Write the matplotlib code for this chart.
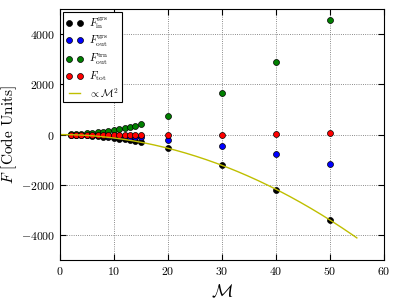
import matplotlib
matplotlib.use("Agg")
import matplotlib.pyplot as plt
import numpy as np

plt.rcParams["font.family"] = "serif"
plt.rcParams["font.serif"] = ["cmr10", "DejaVu Serif"]
plt.rcParams["mathtext.fontset"] = "cm"
plt.rcParams["axes.formatter.use_mathtext"] = True
plt.rcParams["xtick.direction"] = "in"
plt.rcParams["ytick.direction"] = "in"

# Mach numbers
mach = [2, 3, 4, 5, 6, 7, 8, 9, 10, 11, 12, 13, 14, 15, 20, 30, 40, 50]
f_in_grs = [-5, -12, -22, -34, -49, -67, -87, -110, -136, -165, -196, -230, -267, -306,
            -550, -1230, -2190, -3410]
f_out_grs = [-2, -4, -8, -12, -17, -24, -31, -39, -48, -58, -69, -81, -94, -108,
             -200, -440, -760, -1170]
f_out_trn = [7, 16, 29, 46, 66, 89, 116, 147, 182, 220, 262, 308, 357, 410,
             720, 1640, 2900, 4580]
f_tot = [0, 0, 0, 0, 0, 0, 0, 0, -2, -3, -3, -3, -4, -4,
         -30, -30, 10, 50]
# prefactor of the M^2 guide line
coef = -1.36
m_max = 55

fig = plt.figure(figsize=(3.99, 2.99), dpi=100)
ax = fig.add_axes([0.150, 0.130, 0.812, 0.840])

mk = dict(ls="none", marker="o", ms=4.3, mec="k", mew=0.5)
ax.plot(mach, f_in_grs, color="k", label=r"$F_{\rm in}^{\rm grs}$", **mk)
ax.plot(mach, f_out_grs, color="b", label=r"$F_{\rm out}^{\rm grs}$", **mk)
ax.plot(mach, f_out_trn, color="g", label=r"$F_{\rm out}^{\rm trn}$", **mk)
ax.plot(mach, f_tot, color="r", label=r"$F_{\rm tot}$", **mk)

mm = np.linspace(0, m_max, 200)
ax.plot(mm, coef * mm**2, color="#bfbf00", lw=1, label=r"$\propto\mathcal{M}^2$")

ax.set_xlim(0, 60)
ax.set_ylim(-5000, 5000)
ax.set_xticks([0, 10, 20, 30, 40, 50, 60])
ax.set_yticks([-4000, -2000, 0, 2000, 4000])
ax.tick_params(labelsize=8.5, top=True, right=True, length=4)
ax.grid(True, color="0.4", ls=":", lw=0.6)
ax.set_xlabel(r"$\mathcal{M}$", fontsize=13)
ax.set_ylabel(r"$F$ [Code Units]", fontsize=11)
ax.yaxis.set_label_coords(-0.125, 0.5)

leg = ax.legend(loc="upper left", numpoints=2, fontsize=7.5, fancybox=False,
                framealpha=1, borderaxespad=0.3, handlelength=1.6,
                labelspacing=0.25, handletextpad=0.6, borderpad=0.3)
leg.get_frame().set_edgecolor("k")
leg.get_frame().set_linewidth(0.8)

fig.savefig("out.png", dpi=100)
